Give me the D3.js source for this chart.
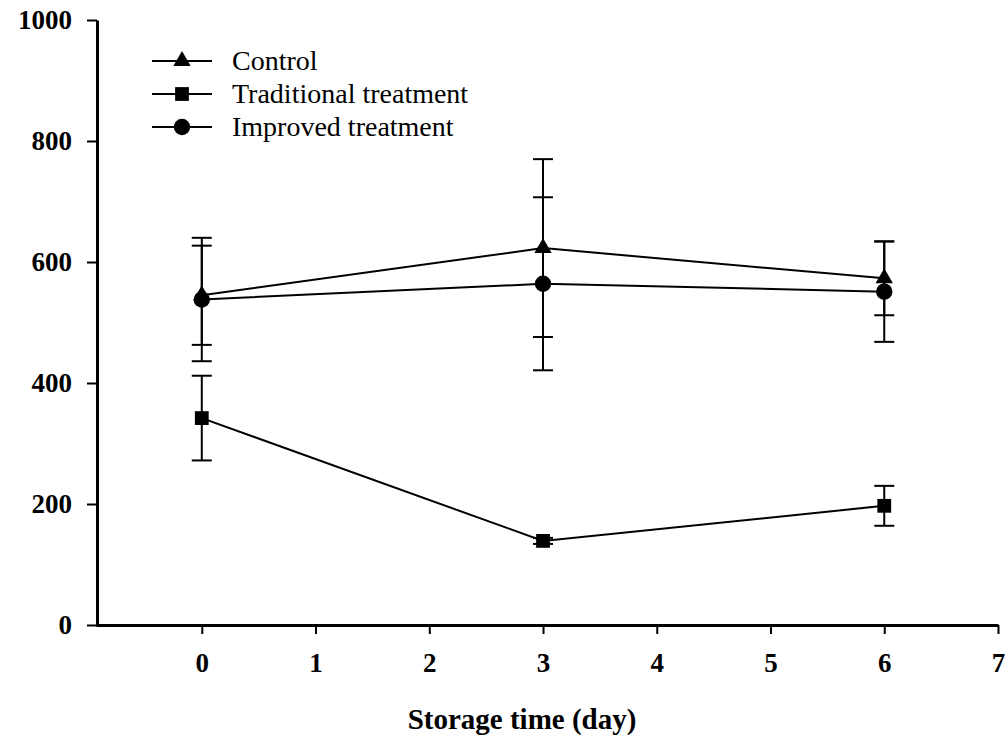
<!DOCTYPE html>
<html>
<head>
<meta charset="utf-8">
<script src="https://cdn.jsdelivr.net/npm/d3@7"></script>
<style>
  body { margin: 0; background: white; }
  svg { display: block; }
</style>
</head>
<body>
<script>
const days = [0, 3, 6]
const controlValues = [545, 623, 573]
const controlErrors = [82, 147, 61]
const traditionalValues = [342, 139, 197]
const traditionalErrors = [70, 5, 33]
const improvedValues = [538, 564, 551]
const improvedErrors = [102, 143, 83]
const xTicks = [0, 1, 2, 3, 4, 5, 6, 7]
const yTicks = [0, 200, 400, 600, 800, 1000]

const series = [
    {name: 'Control', values: controlValues, errors: controlErrors, symbol: d3.symbolTriangle, size: 130},
    {name: 'Traditional treatment', values: traditionalValues, errors: traditionalErrors, symbol: d3.symbolSquare, size: 190},
    {name: 'Improved treatment', values: improvedValues, errors: improvedErrors, symbol: d3.symbolCircle, size: 210}
]

const width = 1008
const height = 738
const font = '"Liberation Serif", "Times New Roman", serif'

const svg = d3.select('body').append('svg')
    .attr('width', width)
    .attr('height', height)

const x = d3.scaleLinear().domain([-0.93, 7]).range([96, 998])
const y = d3.scaleLinear().domain([0, 1000]).range([625, 20])

// axes
const xAxis = svg.append('g')
    .attr('transform', 'translate(0,' + y(0) + ')')
    .call(d3.axisBottom(x).tickValues(xTicks).tickSize(9).tickSizeOuter(0).tickPadding(19))
xAxis.select('.domain').attr('stroke-width', 3)
xAxis.selectAll('.tick line').attr('stroke-width', 2)
xAxis.selectAll('text')
    .style('font-family', font)
    .style('font-weight', 'bold')
    .style('font-size', '27px')
    .attr('fill', 'black')

const yAxis = svg.append('g')
    .attr('transform', 'translate(' + 97 + ',0)')
    .call(d3.axisLeft(y).tickValues(yTicks).tickFormat(d3.format('d')).tickSize(10).tickSizeOuter(0).tickPadding(15))
yAxis.select('.domain').attr('stroke-width', 3)
yAxis.selectAll('.tick line').attr('stroke-width', 2)
yAxis.selectAll('text')
    .style('font-family', font)
    .style('font-weight', 'bold')
    .style('font-size', '27px')
    .attr('fill', 'black')

svg.append('text')
    .text('Storage time (day)')
    .attr('x', 522)
    .attr('y', 729)
    .style('font-family', font)
    .style('font-weight', 'bold')
    .style('font-size', '29px')
    .style('text-anchor', 'middle')

const line = d3.line()
    .x(d => x(d.day))
    .y(d => y(d.value))

series.forEach(s => {
    const pts = days.map((day, i) => ({day: day, value: s.values[i], err: s.errors[i]}))
    const g = svg.append('g').attr('class', 'series')

    g.append('path')
        .datum(pts)
        .attr('d', line)
        .attr('fill', 'none')
        .attr('stroke', 'black')
        .attr('stroke-width', 2)

    const bars = g.selectAll('.err')
        .data(pts)
        .join('g')
        .attr('class', 'err')
    bars.append('line')
        .attr('x1', d => x(d.day)).attr('x2', d => x(d.day))
        .attr('y1', d => y(d.value + d.err)).attr('y2', d => y(d.value - d.err))
        .attr('stroke', 'black').attr('stroke-width', 2)
    bars.selectAll('.cap')
        .data(d => [d.value + d.err, d.value - d.err].map(v => ({day: d.day, v: v})))
        .join('line')
        .attr('class', 'cap')
        .attr('x1', d => x(d.day) - 10).attr('x2', d => x(d.day) + 10)
        .attr('y1', d => y(d.v)).attr('y2', d => y(d.v))
        .attr('stroke', 'black').attr('stroke-width', 2)

    g.selectAll('.mark')
        .data(pts)
        .join('path')
        .attr('class', 'mark')
        .attr('d', d3.symbol().type(s.symbol).size(s.size))
        .attr('transform', d => 'translate(' + x(d.day) + ',' + y(d.value) + ')')
        .attr('fill', 'black')
})

// legend
const legend = svg.append('g')
    .selectAll('g')
    .data(series)
    .join('g')
    .attr('transform', (d, i) => 'translate(152,' + (61 + i * 33) + ')')

legend.append('line')
    .attr('x1', 0).attr('x2', 60)
    .attr('stroke', 'black').attr('stroke-width', 2)
legend.append('path')
    .attr('d', d => d3.symbol().type(d.symbol).size(d.size)())
    .attr('transform', 'translate(30,0)')
    .attr('fill', 'black')
legend.append('text')
    .text(d => d.name)
    .attr('x', 80)
    .attr('y', 9)
    .style('font-family', font)
    .style('font-size', '28px')
</script>
</body>
</html>
